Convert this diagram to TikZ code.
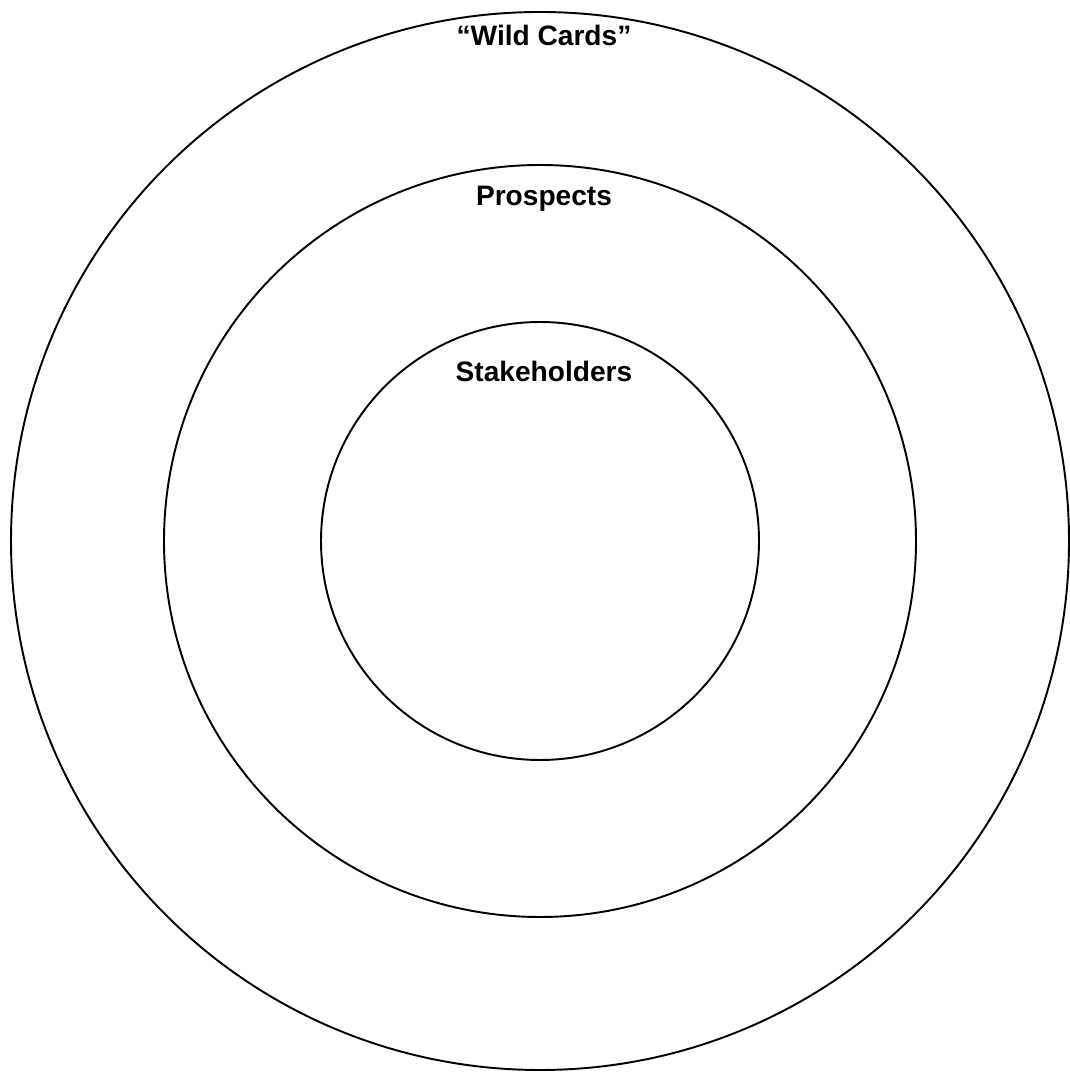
\documentclass[tikz,border=0pt]{standalone}
\usepackage{fontspec}
\setmainfont{Liberation Sans}
\usepackage{tikz}
\usetikzlibrary{positioning}

\tikzset{
  ring/.style={draw=black, line width=1.1pt},
  ringlabel/.style={font=\fontsize{16}{19}\selectfont\bfseries, anchor=base, inner sep=0pt}
}

\begin{document}
\begin{tikzpicture}
    \useasboundingbox (0,0) rectangle (21.38,21.44);
    \coordinate (c) at (10.8,10.62);

    % three rings around the same centre
    \draw[ring] (c) circle (10.58);
    \draw[ring] (c) circle (7.52);
    \draw[ring] (c) circle (4.38);

    \node[ringlabel] (wild) at (10.88,20.52) {``Wild Cards''};
    \node[ringlabel] (prospects) at (10.88,17.32) {Prospects};
    \node[ringlabel] (stake) at (10.88,13.80) {Stakeholders};
  \end{tikzpicture}
\end{document}
